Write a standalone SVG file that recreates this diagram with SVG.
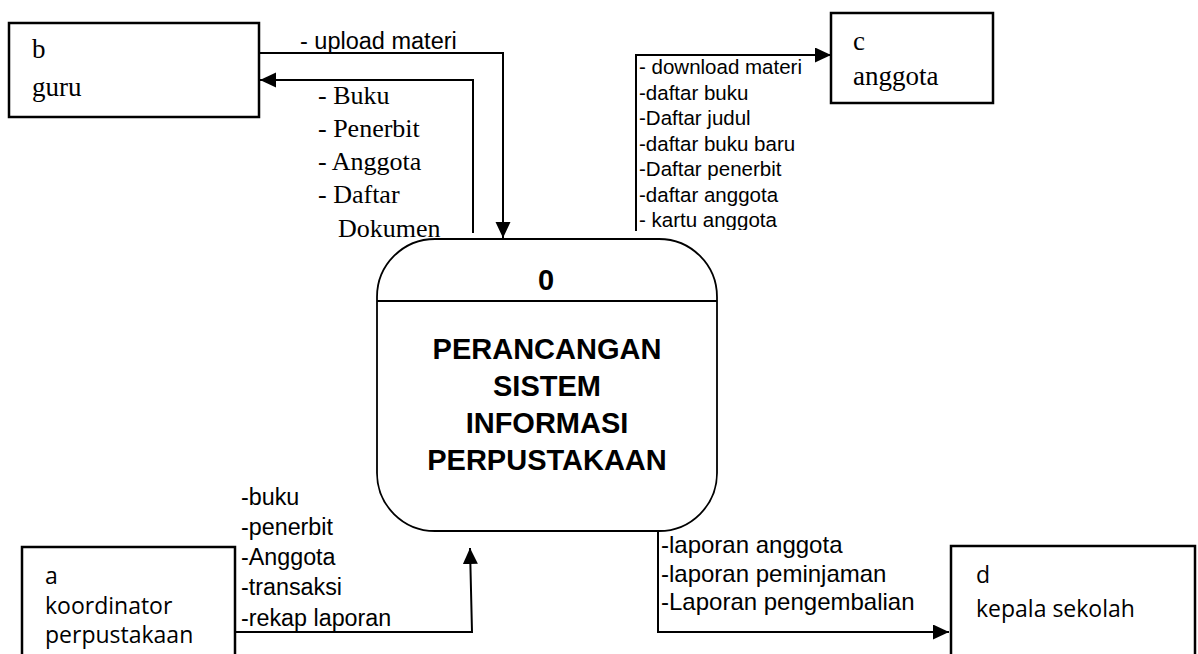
<svg xmlns="http://www.w3.org/2000/svg" width="1198" height="654" viewBox="0 0 1198 654">
<style>
.box{fill:#fff;stroke:#000;stroke-width:2.5}
.proc{fill:#fff;stroke:#000;stroke-width:1.8}
.ln{fill:none;stroke:#000;stroke-width:2}
.serif{font-family:"Liberation Serif","Times New Roman",serif;fill:#000}
.ent{font-size:27px}
.sans{font-family:"Liberation Sans",Arial,sans-serif;fill:#000}
.cal{font-family:"Open Sans","Noto Sans",sans-serif;font-size:23px;fill:#000}
.title{font-family:"Liberation Sans",Arial,sans-serif;font-weight:bold;font-size:29px;fill:#000;text-anchor:middle}
</style>
<defs>
<marker id="ah" markerUnits="userSpaceOnUse" markerWidth="18" markerHeight="16" refX="16" refY="7.5" orient="auto">
<path d="M0,0 L16,7.5 L0,15 z" fill="#000"/>
</marker>
<clipPath id="clipC"><rect x="600" y="40" width="300" height="190"/></clipPath>
</defs>

<g id="connectors">
<path class="ln" d="M259,53 H503 V238" marker-end="url(#ah)"/>
<path class="ln" d="M473,233 V80 H260" marker-end="url(#ah)"/>
<path class="ln" d="M636,231 V55 H831" marker-end="url(#ah)"/>
<path class="ln" d="M235,632 H472 L470,548" marker-end="url(#ah)"/>
<path class="ln" d="M658,532 V632 H949" marker-end="url(#ah)"/>
</g>

<g id="labels">
<text class="sans" x="300" y="49" font-size="23.5">- upload materi</text>
<g class="serif" font-size="26">
<text x="318" y="104">- Buku</text>
<text x="318" y="137">- Penerbit</text>
<text x="318" y="170">- Anggota</text>
<text x="318" y="203">- Daftar</text>
<text x="338" y="237">Dokumen</text>
</g>
<g class="sans" font-size="20.5" clip-path="url(#clipC)">
<text x="639" y="74">- download materi</text>
<text x="639" y="100">-daftar buku</text>
<text x="639" y="125">-Daftar judul</text>
<text x="639" y="151">-daftar buku baru</text>
<text x="639" y="176">-Daftar penerbit</text>
<text x="639" y="202">-daftar anggota</text>
<text x="639" y="227">- kartu anggota</text>
</g>
<g class="sans" font-size="23.3">
<text x="241" y="505">-buku</text>
<text x="241" y="535">-penerbit</text>
<text x="241" y="565">-Anggota</text>
<text x="241" y="595">-transaksi</text>
<text x="241" y="626">-rekap laporan</text>
</g>
<g class="sans" font-size="24">
<text x="661" y="553">-laporan anggota</text>
<text x="661" y="582">-laporan peminjaman</text>
<text x="661" y="610">-Laporan pengembalian</text>
</g>
</g>

<g id="node-b">
<rect class="box" x="9" y="23" width="250" height="94"/>
<text class="serif ent" x="32" y="58">b</text>
<text class="serif ent" x="32" y="96" font-size="28">guru</text>
</g>

<g id="node-c">
<rect class="box" x="831" y="13" width="162" height="90"/>
<text class="serif ent" x="853" y="50">c</text>
<text class="serif ent" x="853" y="85" font-size="28">anggota</text>
</g>

<g id="node-a">
<rect class="box" x="22" y="547" width="213" height="130"/>
<text class="cal" x="45" y="584">a</text>
<text class="cal" x="45" y="614">koordinator</text>
<text class="cal" x="45" y="643">perpustakaan</text>
</g>

<g id="node-d">
<rect class="box" x="951" y="546" width="244" height="130"/>
<text class="cal" x="976" y="583">d</text>
<text class="cal" x="976" y="617">kepala sekolah</text>
</g>

<g id="node-0">
<rect class="proc" x="377" y="239" width="340" height="292" rx="58" ry="58"/>
<line class="proc" x1="377" y1="301" x2="717" y2="301"/>
<text class="title" x="546" y="290" font-size="20">0</text>
<text class="title" x="547" y="359">PERANCANGAN</text>
<text class="title" x="547" y="396">SISTEM</text>
<text class="title" x="547" y="433">INFORMASI</text>
<text class="title" x="547" y="470">PERPUSTAKAAN</text>
</g>
</svg>
